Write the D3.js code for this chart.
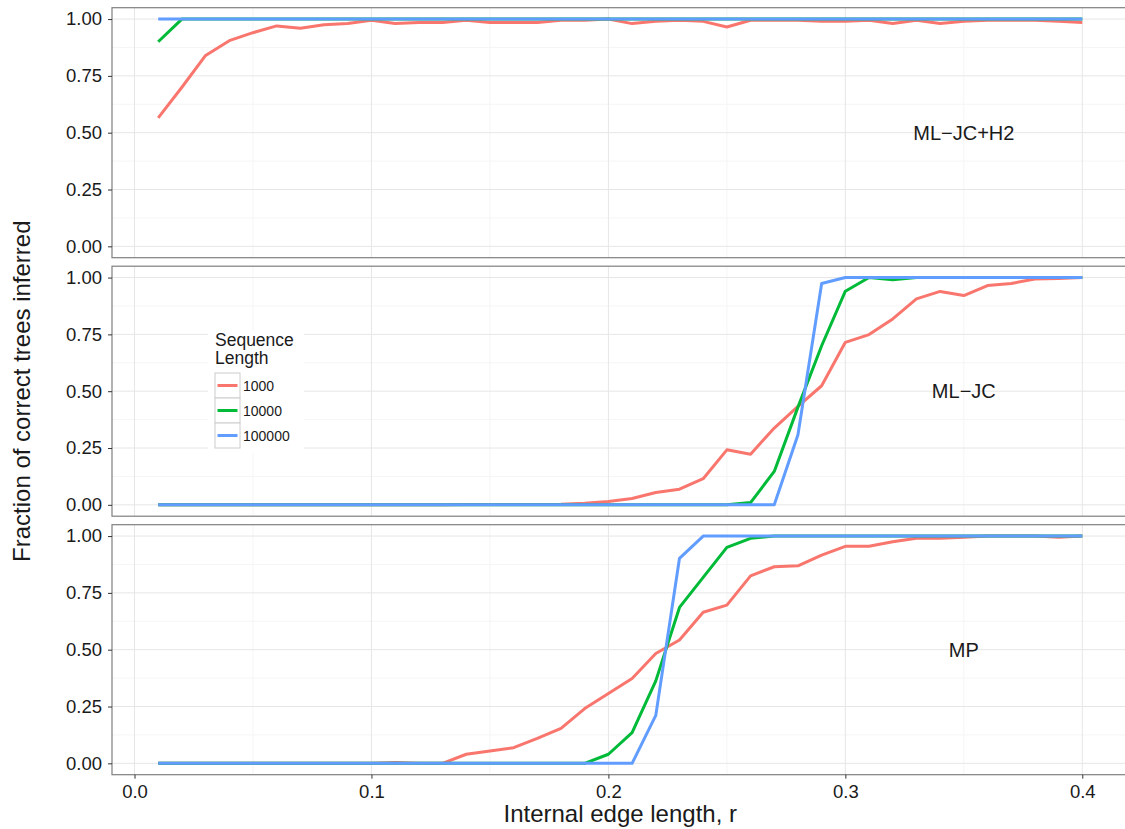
<!DOCTYPE html>
<html>
<head>
<meta charset="utf-8">
<style>
  body { margin: 0; background: #fff; }
  text { font-family: "Liberation Sans", Arial, sans-serif; fill: #1a1a1a; }
  .grid-major { stroke: #e6e6e6; stroke-width: 1; }
  .grid-minor { stroke: #f5f5f5; stroke-width: 1; }
  .border { fill: none; stroke: #7f7f7f; stroke-width: 1.2; }
  .tick line { stroke: #333; }
  .tick text { font-size: 18.5px; fill: #1a1a1a; }
</style>
</head>
<body>
<svg id="graph" width="1125" height="829"></svg>
<script src="https://cdnjs.cloudflare.com/ajax/libs/d3/7.8.5/d3.min.js"></script>
<script>
// internal edge length r
var edgeLength = [0.01, 0.02, 0.03, 0.04, 0.05, 0.06, 0.07, 0.08, 0.09, 0.10,
                  0.11, 0.12, 0.13, 0.14, 0.15, 0.16, 0.17, 0.18, 0.19, 0.20,
                  0.21, 0.22, 0.23, 0.24, 0.25, 0.26, 0.27, 0.28, 0.29, 0.30,
                  0.31, 0.32, 0.33, 0.34, 0.35, 0.36, 0.37, 0.38, 0.39, 0.40];

var methods = ["ML\u2212JC+H2", "ML\u2212JC", "MP"];
var seqLengths = ["1000", "10000", "100000"];
var seqColors = ["#F8766D", "#00BA38", "#619CFF"];
var xTicks = [0, 0.1, 0.2, 0.3, 0.4];
var yTicks = [0, 0.25, 0.5, 0.75, 1];

// ML-JC+H2
var mlh2_1000 = [0.565, 0.70, 0.84, 0.905, 0.94, 0.97, 0.96, 0.975, 0.98, 0.995,
                 0.98, 0.985, 0.985, 0.995, 0.985, 0.985, 0.985, 0.995, 0.995, 1.0,
                 0.98, 0.99, 0.995, 0.99, 0.965, 0.995, 0.995, 0.995, 0.99, 0.99,
                 0.995, 0.98, 0.995, 0.98, 0.99, 0.995, 0.995, 0.995, 0.99, 0.985];
var mlh2_10000 = [0.90, 1, 1, 1, 1, 1, 1, 1, 1, 1,
                  1, 1, 1, 1, 1, 1, 1, 1, 1, 1,
                  1, 1, 1, 1, 1, 1, 1, 1, 1, 1,
                  1, 1, 1, 1, 1, 1, 1, 1, 1, 1];
var mlh2_100000 = [1, 1, 1, 1, 1, 1, 1, 1, 1, 1,
                   1, 1, 1, 1, 1, 1, 1, 1, 1, 1,
                   1, 1, 1, 1, 1, 1, 1, 1, 1, 1,
                   1, 1, 1, 1, 1, 1, 1, 1, 1, 1];

// ML-JC
var mljc_1000 = [0, 0, 0, 0, 0, 0, 0, 0, 0, 0,
                 0, 0, 0, 0.001, 0.001, 0.002, 0.002, 0.003, 0.007, 0.015,
                 0.028, 0.054, 0.069, 0.115, 0.242, 0.223, 0.338, 0.433, 0.524, 0.715,
                 0.749, 0.818, 0.906, 0.939, 0.921, 0.965, 0.974, 0.994, 0.996, 1.0];
var mljc_10000 = [0, 0, 0, 0, 0, 0, 0, 0, 0, 0,
                  0, 0, 0, 0, 0, 0, 0, 0, 0, 0,
                  0, 0, 0, 0, 0, 0.01, 0.147, 0.43, 0.70, 0.94,
                  1, 0.99, 1, 1, 1, 1, 1, 1, 1, 1];
var mljc_100000 = [0, 0, 0, 0, 0, 0, 0, 0, 0, 0,
                   0, 0, 0, 0, 0, 0, 0, 0, 0, 0,
                   0, 0, 0, 0, 0, 0, 0, 0.308, 0.974, 1,
                   1, 1, 1, 1, 1, 1, 1, 1, 1, 1];

// MP
var mp_1000 = [0, 0, 0, 0, 0, 0, 0, 0, 0, 0,
               0.004, 0, 0, 0.04, 0.054, 0.069, 0.11, 0.154, 0.241, 0.307,
               0.373, 0.483, 0.543, 0.665, 0.696, 0.825, 0.865, 0.869, 0.916, 0.955,
               0.955, 0.975, 0.99, 0.99, 0.995, 1.0, 1.0, 1.0, 0.995, 1.0];
var mp_10000 = [0, 0, 0, 0, 0, 0, 0, 0, 0, 0,
                0, 0, 0, 0, 0, 0, 0, 0, 0, 0.04,
                0.135, 0.363, 0.686, 0.818, 0.95, 0.99, 1, 1, 1, 1,
                1, 1, 1, 1, 1, 1, 1, 1, 1, 1];
var mp_100000 = [0, 0, 0, 0, 0, 0, 0, 0, 0, 0,
                 0, 0, 0, 0, 0, 0, 0, 0, 0, 0,
                 0, 0.211, 0.902, 1, 1, 1, 1, 1, 1, 1,
                 1, 1, 1, 1, 1, 1, 1, 1, 1, 1];

var panelData = [
  [mlh2_1000, mlh2_10000, mlh2_100000],
  [mljc_1000, mljc_10000, mljc_100000],
  [mp_1000, mp_10000, mp_100000]
];

var svg = d3.select("#graph");

var panelLeft = 112, panelRight = 1128.5, panelH = 250;
var panelTops = [7.7, 266.2, 524.7];

// ggplot style 5% expansion on both axes
var xScale = d3.scaleLinear().domain([0.01 - 0.0195, 0.4 + 0.0195]).range([panelLeft, panelRight]);
var yScale = d3.scaleLinear().domain([-0.05, 1.05]).range([panelH, 0]);

var xMinor = [0.05, 0.15, 0.25, 0.35];
var yMinor = [0.125, 0.375, 0.625, 0.875];

panelTops.forEach(function(top, p) {
  var g = svg.append("g").attr("transform", "translate(0," + top + ")");

  g.selectAll(".vminor").data(xMinor).enter().append("line")
    .attr("class", "grid-minor")
    .attr("x1", d => xScale(d)).attr("x2", d => xScale(d))
    .attr("y1", 0).attr("y2", panelH);
  g.selectAll(".hminor").data(yMinor).enter().append("line")
    .attr("class", "grid-minor")
    .attr("x1", panelLeft).attr("x2", panelRight)
    .attr("y1", d => yScale(d)).attr("y2", d => yScale(d));
  g.selectAll(".vmajor").data(xTicks).enter().append("line")
    .attr("class", "grid-major")
    .attr("x1", d => xScale(d)).attr("x2", d => xScale(d))
    .attr("y1", 0).attr("y2", panelH);
  g.selectAll(".hmajor").data(yTicks).enter().append("line")
    .attr("class", "grid-major")
    .attr("x1", panelLeft).attr("x2", panelRight)
    .attr("y1", d => yScale(d)).attr("y2", d => yScale(d));

  var line = d3.line()
    .x((d, i) => xScale(edgeLength[i]))
    .y(d => yScale(d));

  panelData[p].forEach(function(series, s) {
    g.append("path")
      .datum(series)
      .attr("d", line)
      .attr("fill", "none")
      .attr("stroke", seqColors[s])
      .attr("stroke-width", 3)
      .attr("stroke-linejoin", "round");
  });

  g.append("text")
    .attr("x", xScale(0.35))
    .attr("y", yScale(0.5))
    .attr("dy", "0.36em")
    .attr("text-anchor", "middle")
    .style("font-size", "20px")
    .text(methods[p]);

  g.append("rect")
    .attr("class", "border")
    .attr("x", panelLeft).attr("y", 0)
    .attr("width", panelRight - panelLeft).attr("height", panelH);

  var yAxis = d3.axisLeft(yScale).tickValues(yTicks)
    .tickFormat(d3.format(".2f")).tickSize(4).tickPadding(6);
  g.append("g").attr("transform", "translate(" + panelLeft + ",0)")
    .call(yAxis)
    .call(a => a.select(".domain").remove());
});

var xAxis = d3.axisBottom(xScale).tickValues(xTicks)
  .tickFormat(d3.format(".1f")).tickSize(4).tickPadding(6);
svg.append("g").attr("transform", "translate(0," + (panelTops[2] + panelH) + ")")
  .call(xAxis)
  .call(a => a.select(".domain").remove());

// axis titles
svg.append("text")
  .attr("x", (panelLeft + panelRight) / 2)
  .attr("y", 822)
  .attr("text-anchor", "middle")
  .style("font-size", "24px")
  .text("Internal edge length, r");

svg.append("text")
  .attr("transform", "translate(30," + ((panelTops[0] + panelTops[2] + panelH) / 2) + ") rotate(-90)")
  .attr("text-anchor", "middle")
  .style("font-size", "24px")
  .text("Fraction of correct trees inferred");

// legend
var legend = svg.append("g").attr("transform", "translate(208,330)");
legend.append("rect")
  .attr("width", 96).attr("height", 123)
  .attr("fill", "#fff");
legend.append("text").attr("x", 7).attr("y", 16).style("font-size", "17.5px").text("Sequence");
legend.append("text").attr("x", 7).attr("y", 34).style("font-size", "17.5px").text("Length");

var keys = legend.selectAll(".key").data(seqLengths).enter().append("g")
  .attr("transform", (d, i) => "translate(7," + (43 + i * 25) + ")");
keys.append("rect")
  .attr("width", 25).attr("height", 25)
  .attr("fill", "#fff").attr("stroke", "#cccccc").attr("stroke-width", 1);
keys.append("line")
  .attr("x1", 2.5).attr("x2", 22.5)
  .attr("y1", 12.5).attr("y2", 12.5)
  .attr("stroke", (d, i) => seqColors[i])
  .attr("stroke-width", 3);
keys.append("text")
  .attr("x", 28).attr("y", 12.5).attr("dy", "0.36em")
  .style("font-size", "14px")
  .text(d => d);
</script>
</body>
</html>
